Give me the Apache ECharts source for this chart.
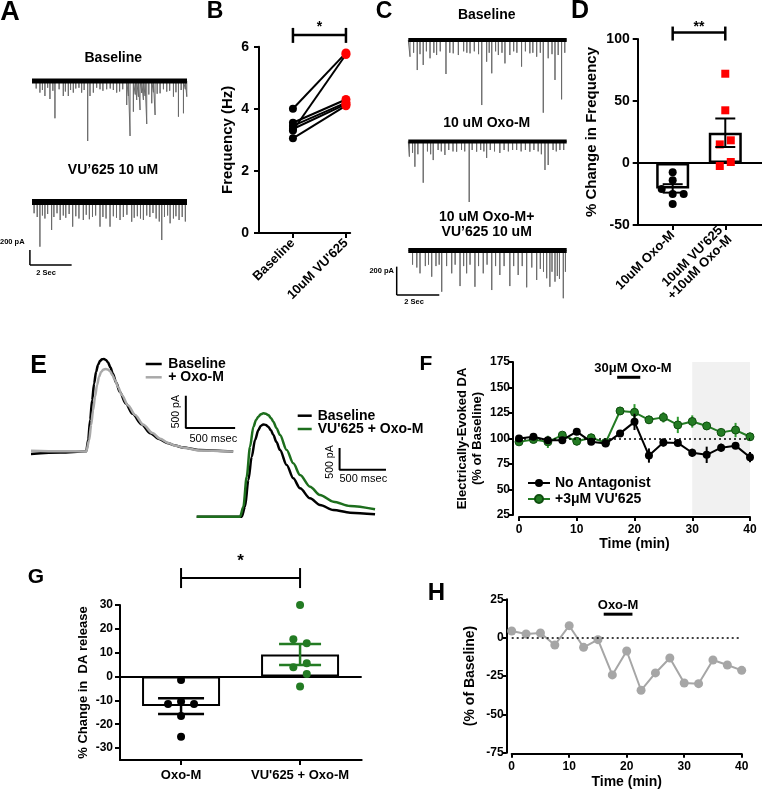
<!DOCTYPE html>
<html><head><meta charset="utf-8">
<script src="https://cdn.jsdelivr.net/npm/echarts@6/dist/echarts.min.js"></script>
<style>html,body{margin:0;padding:0;background:#fff}#c{width:762px;height:789px}</style>
</head><body><div id="c"></div><script>
const FONT = '"Liberation Sans", Arial, sans-serif';
const GREEN = '#237b23';

// ---------- Panel A (spike traces: time s, amplitude pA) ----------
const aDuration = 7.43;
const aBaseSpikeT = [0.2,0.38,0.5,0.62,0.75,0.86,1.0,1.10,1.3,1.50,1.6,1.74,1.85,1.98,2.1,2.25,2.38,2.5,2.67,2.78,2.94,3.1,3.26,3.4,3.58,3.75,3.9,4.06,4.2,4.35,4.54,4.62,4.70,4.86,4.95,5.02,5.1,5.18,5.26,5.34,5.42,5.50,5.6,5.74,5.82,5.90,6.0,6.14,6.3,6.46,6.6,6.78,6.9,7.02,7.15,7.26,7.35,7.42];
const aBaseSpikeD = [100,155,120,200,90,240,130,497,110,200,140,200,120,155,100,90,155,120,800,200,155,90,110,130,110,100,120,155,140,110,320,200,733,409,180,253,210,387,160,253,200,573,180,297,150,453,170,164,110,142,130,209,150,476,120,430,110,209];
const aVUSpikeT = [0.1,0.25,0.38,0.5,0.62,0.75,0.94,1.05,1.2,1.35,1.5,1.62,1.78,1.95,2.1,2.25,2.46,2.6,2.75,2.9,3.05,3.26,3.4,3.55,3.74,3.9,4.05,4.22,4.38,4.55,4.78,4.9,5.05,5.2,5.34,5.5,5.65,5.80,5.95,6.1,6.22,6.35,6.5,6.62,6.78,6.9,7.05,7.2,7.35];
const aVUSpikeD = [150,200,596,180,220,160,373,200,150,240,180,210,160,329,190,220,240,170,230,200,180,329,200,220,329,190,210,240,200,170,263,210,190,220,240,180,200,147,220,260,507,200,180,284,220,190,240,200,260];
// ---------- Panel B ----------
const bCategories = ['Baseline', "10uM VU'625"];
const bBaseline = [4.0, 3.55, 3.45, 3.35, 3.3, 3.05];
const bVU625 = [5.8, 4.3, 4.2, 4.15, 5.75, 4.1];
// ---------- Panel C ----------
const cDuration = 7.44;
const c1SpikeT = [0.08,0.25,0.42,0.55,0.70,0.85,1.02,1.2,1.33,1.5,1.77,1.95,2.11,2.35,2.6,2.75,2.90,3.1,3.3,3.45,3.68,3.8,3.92,4.1,4.23,4.4,4.54,4.77,4.95,5.1,5.32,5.5,5.71,5.85,6.03,6.2,6.34,6.57,6.75,6.89,7.04,7.20,7.35];
const c1SpikeD = [118,90,212,100,176,80,129,90,106,80,240,90,94,106,80,90,94,80,100,459,153,90,235,80,106,90,165,106,80,90,188,80,94,90,118,90,513,129,100,282,106,419,90];
const c2SpikeT = [0.05,0.2,0.31,0.45,0.70,0.9,1.05,1.17,1.4,1.55,1.72,1.9,2.1,2.27,2.5,2.65,2.86,3.0,3.21,3.4,3.55,3.68,3.85,4.05,4.30,4.5,4.7,4.9,5.09,5.3,5.5,5.71,5.9,6.1,6.25,6.42,6.57,6.8,6.95,7.12,7.3];
const c2SpikeD = [107,80,178,90,291,70,90,131,60,70,95,60,70,72,60,70,427,60,72,60,70,116,60,70,81,60,70,60,60,70,60,72,60,70,90,201,166,60,70,60,60];
const c3SpikeT = [0.2,0.4,0.55,0.8,0.95,1.10,1.3,1.45,1.57,1.8,2.04,2.2,2.43,2.6,2.74,2.9,3.13,3.3,3.52,3.7,3.92,4.1,4.30,4.5,4.77,4.95,5.16,5.35,5.56,5.8,6.03,6.2,6.35,6.50,6.65,6.75,6.89,7.0,7.1,7.28,7.38];
const c3SpikeD = [100,120,161,110,100,185,110,100,291,110,161,100,251,110,161,100,256,110,161,100,279,110,173,110,251,110,173,110,260,120,208,130,150,196,256,150,220,180,200,337,150];
// ---------- Panel D ----------
const dCategories = ['10uM Oxo-M', "10uM VU'625\n+10uM Oxo-M"];
const dMeans = [-20.5, 24.4];
const dSem = [3.4, 11.5];
const dOxo = [-7.5, -14, -21, -25, -25, -33];
const dVU = [72, 42.5, 18.3, 15, 0.8, -2.4];
const dOxoJitter = [0, 0, -11, 0, 11, 0];
const dVUJitter = [0, 0, 5.5, -5.5, 5.5, -5.5];
// ---------- Panel E (time ms, current pA) ----------
const eLeftBaseT = [0,300,560,580,600,620,640,660,680,700,720,740,760,780,805,830,865,900,960,1030,1120,1210,1300,1380,1460,1540,1710,2050];
const eLeftBase  = [-30,-10,10,190,500,800,1060,1240,1350,1410,1435,1440,1425,1390,1310,1210,1070,930,750,590,430,290,200,140,100,70,30,5];
const eLeftOxoT  = [0,300,560,590,610,630,650,670,690,710,735,760,780,800,825,850,885,920,985,1055,1140,1230,1310,1390,1470,1560,1710,2050];
const eLeftOxo   = [20,12,8,186,420,650,860,1037,1160,1238,1275,1285,1275,1254,1190,1115,1000,882,720,573,420,294,205,139,95,62,23,5];
const eRightBaseT = [0,485,521,557,593,629,665,690,718,745,772,800,826,860,898,970,1041,1114,1222,1329,1473,1653,1922];
const eRightBase  = [0,0,230,845,1382,1766,1997,2090,2127,2115,2074,1990,1882,1720,1536,1190,883,653,422,269,154,92,54];
const eRightVUT   = [0,467,503,539,575,611,640,665,690,718,745,772,800,826,860,898,970,1041,1114,1222,1329,1473,1653,1922];
const eRightVU    = [0,0,230,922,1613,2074,2230,2304,2360,2381,2372,2342,2275,2189,2040,1882,1536,1229,960,691,499,346,246,169];
// ---------- Panel F ----------
const fTime = [0,2.5,5,7.5,10,12.5,15,17.5,20,22.5,25,27.5,30,32.5,35,37.5,40];
const fNoAnt = [100,101.7,98.3,98.3,106.7,96.7,95,105,116.3,83.3,96,95.7,86,84,91,93,81.7];
const fNoAntSem = [2,2,3,3,3,3,3,3,8,7,4,3,4,8,4,3,5];
const fVU = [96.7,99,96.7,103.3,97.3,100.7,96,127,125.7,118.3,120.7,113.3,116.7,112.3,106,108.3,101.7];
const fVUSem = [3,3,6,3,4,4,3,4,8,4,5,8,6,4,3,7,4];
const fOxoWindow = [17, 21];
// ---------- Panel G ----------
const gCategories = ['Oxo-M', "VU'625 + Oxo-M"];
const gMeans = [-12.4, 9.2];
const gSem = [3.3, 4.4];
const gOxo = [-1.4, -11.5, -10.5, -11.5, -16.5, -25.3];
const gVU = [30, 15.6, 14, 3.9, 5.6, 1.1, -4.2];
const gOxoJitter = [0, -13, 0, 13, 0, 0];
const gVUJitter = [0, -6.7, 6.7, -6.7, 6.7, 6.7, 0];
// ---------- Panel H ----------
const hTime = [0,2.5,5,7.5,10,12.5,15,17.5,20,22.5,25,27.5,30,32.5,35,37.5,40];
const hValues = [4.3,2.4,3,-4.8,7.8,-6.3,-1.3,-24.3,-8.7,-34.3,-23,-13.3,-29.6,-30,-14.6,-17.8,-21.3];
const hOxoWindow = [16, 21];

// ---------- helpers ----------
function spikeLine(times, depths, end) {
  const idx = times.map((t, i) => i).sort((a, b) => times[a] - times[b]);
  const pts = [[0, 0]];
  idx.forEach(i => { pts.push([times[i], 0], [times[i], -depths[i]], [times[i], 0]); });
  pts.push([end, 0]);
  return pts;
}
function zip(xs, ys) { return xs.map((x, i) => [x, ys[i]]); }
function labelStyle(size, extra) {
  return Object.assign({color: '#000', fontWeight: 'bold', fontSize: size, fontFamily: FONT}, extra || {});
}
function valAxis(gi, o) {
  return Object.assign({
    gridIndex: gi, type: 'value',
    axisLine: {show: true, onZero: false, lineStyle: {color: '#000', width: 2}},
    axisTick: {show: true, length: 5, lineStyle: {color: '#000', width: 2}},
    splitLine: {show: false}
  }, o);
}
function hidden(gi, min, max) {
  return {gridIndex: gi, type: 'value', min: min, max: max, show: false,
    axisLine: {onZero: false}, splitLine: {show: false}};
}
function errBars(gi, pts, color, capPx, lw, z) {
  return {type: 'custom', xAxisIndex: gi, yAxisIndex: gi, z: z || 5, silent: true, data: pts,
    renderItem: function (params, api) {
      const x = api.value(0), m = api.value(1), s = api.value(2);
      const a = api.coord([x, m + s]), b = api.coord([x, m - s]);
      const st = {stroke: color, lineWidth: lw};
      const ch = [{type: 'line', shape: {x1: a[0], y1: a[1], x2: b[0], y2: b[1]}, style: st}];
      if (capPx) {
        ch.push({type: 'line', shape: {x1: a[0] - capPx / 2, y1: a[1], x2: a[0] + capPx / 2, y2: a[1]}, style: st});
        ch.push({type: 'line', shape: {x1: b[0] - capPx / 2, y1: b[1], x2: b[0] + capPx / 2, y2: b[1]}, style: st});
      }
      return {type: 'group', children: ch};
    }};
}
function traceSeries(gi, times, depths, end, band) {
  return [
    {type: 'line', xAxisIndex: gi, yAxisIndex: gi, data: [[0, 0], [end, 0]], symbol: 'none',
     lineStyle: {color: '#000', width: band}, z: 3, silent: true},
    {type: 'line', xAxisIndex: gi, yAxisIndex: gi, data: spikeLine(times, depths, end), symbol: 'none',
     lineStyle: {color: '#6a6a6a', width: 1}, z: 2, silent: true}
  ];
}
const zeroLine = {silent: true, symbol: ['none', 'none'], label: {show: false},
  lineStyle: {color: '#000', type: 'solid', width: 2}, data: [{yAxis: 0}], animation: false};
const solid = {opacity: 1};

const grids = [
  {left: 32, top: 76.5, width: 155, height: 68.25},
  {left: 32, top: 197.5, width: 155, height: 68.25},
  {left: 259, top: 46.7, width: 91.2, height: 186.3},
  {left: 408.3, top: 35.75, width: 158.4, height: 83.6},
  {left: 408.3, top: 137.25, width: 158.4, height: 83.6},
  {left: 408.3, top: 246.25, width: 158.4, height: 83.6},
  {left: 637.7, top: 39, width: 124.3, height: 186},
  {left: 31, top: 348.6, width: 207.1, height: 109.8},
  {left: 196.7, top: 408.2, width: 190.2, height: 112.8},
  {left: 519, top: 362, width: 231, height: 153},
  {left: 120, top: 605, width: 241.7, height: 155},
  {left: 511.7, top: 599.3, width: 230, height: 153.4}
].map(g => Object.assign({outerBoundsMode: 'none', containLabel: false, show: false}, g));

const xAxes = [
  hidden(0, 0, aDuration), hidden(1, 0, aDuration),
  valAxis(2, {min: -0.64, max: 1.08,
    axisTick: {show: true, length: 5, customValues: [0, 1], lineStyle: {color: '#000', width: 2}},
    axisLabel: labelStyle(13, {customValues: [0, 1], rotate: 45, margin: 8, formatter: v => bCategories[Math.round(v)]})}),
  hidden(3, 0, cDuration), hidden(4, 0, cDuration), hidden(5, 0, cDuration),
  valAxis(6, {min: -0.665, max: 1.698,
    axisTick: {show: true, length: 5, customValues: [0, 1], lineStyle: {color: '#000', width: 2}},
    axisLabel: labelStyle(13, {customValues: [0, 1], rotate: 45, margin: 8, formatter: v => dCategories[Math.round(v)]})}),
  hidden(7, 0, 2100), hidden(8, 0, 2050),
  valAxis(9, {min: 0, max: 40, interval: 10, offset: 2,
    axisTick: {show: true, length: 4, lineStyle: {color: '#000', width: 2}},
    axisLabel: labelStyle(12, {margin: 7}),
    name: 'Time (min)', nameLocation: 'middle', nameGap: 20, nameTextStyle: labelStyle(14)}),
  valAxis(10, {min: -0.513, max: 1.518,
    axisTick: {show: true, length: 5, customValues: [0, 1], lineStyle: {color: '#000', width: 2}},
    axisLabel: labelStyle(13, {customValues: [0, 1], margin: 9, formatter: v => gCategories[Math.round(v)]})}),
  valAxis(11, {min: 0, max: 40, interval: 10, offset: 1,
    axisTick: {show: true, length: 4, lineStyle: {color: '#000', width: 2}},
    axisLabel: labelStyle(12, {margin: 7}),
    name: 'Time (min)', nameLocation: 'middle', nameGap: 21, nameTextStyle: labelStyle(14)})
];
const yAxes = [
  hidden(0, -850, 60), hidden(1, -850, 60),
  valAxis(2, {min: 0, max: 6, interval: 2, axisLabel: labelStyle(14, {margin: 10}),
    name: 'Frequency (Hz)', nameLocation: 'middle', nameGap: 24, nameTextStyle: labelStyle(15)}),
  hidden(3, -560, 30), hidden(4, -560, 30), hidden(5, -560, 30),
  valAxis(6, {min: -50, max: 100, interval: 50, axisLabel: labelStyle(14, {margin: 8}),
    name: '% Change in Frequency', nameLocation: 'middle', nameGap: 38, nameTextStyle: labelStyle(15)}),
  hidden(7, -100, 1600), hidden(8, -100, 2500),
  valAxis(9, {min: 25, max: 175, interval: 25, offset: 6,
    axisTick: {show: true, length: 4, lineStyle: {color: '#000', width: 2}},
    axisLabel: labelStyle(12, {margin: 3}),
    name: 'Electrically-Evoked DA\n(% of Baseline)', nameLocation: 'middle', nameGap: 28,
    nameTextStyle: labelStyle(13, {lineHeight: 15})}),
  valAxis(10, {min: -35, max: 30,
    axisTick: {show: true, length: 5, customValues: [-30, -20, -10, 0, 10, 20, 30], lineStyle: {color: '#000', width: 2}},
    axisLabel: labelStyle(12, {customValues: [-30, -20, -10, 0, 10, 20, 30], margin: 7}),
    name: '% Change in  DA release', nameLocation: 'middle', nameGap: 30, nameTextStyle: labelStyle(13)}),
  valAxis(11, {min: -75, max: 25, interval: 25, offset: 5,
    axisTick: {show: true, length: 4, lineStyle: {color: '#000', width: 2}},
    axisLabel: labelStyle(12, {margin: 3}),
    name: '(% of Baseline)', nameLocation: 'middle', nameGap: 30, nameTextStyle: labelStyle(14)})
];

const series = [];
// A
series.push(...traceSeries(0, aBaseSpikeT, aBaseSpikeD, aDuration, 5));
series.push(...traceSeries(1, aVUSpikeT, aVUSpikeD, aDuration, 6));
// B
bBaseline.forEach((v, i) => series.push({type: 'line', xAxisIndex: 2, yAxisIndex: 2,
  data: [[0, v], [1, bVU625[i]]], symbol: 'none', lineStyle: {color: '#000', width: 2}, z: 3, silent: true}));
series.push({type: 'scatter', xAxisIndex: 2, yAxisIndex: 2, data: bBaseline.map(v => [0, v]),
  symbol: 'circle', symbolSize: 8, itemStyle: {color: '#000', opacity: 1}, z: 5, silent: true});
series.push({type: 'scatter', xAxisIndex: 2, yAxisIndex: 2, data: bVU625.map(v => [1, v]),
  symbol: 'circle', symbolSize: 9, itemStyle: {color: '#f00', opacity: 1}, z: 5, silent: true});
// C
series.push(...traceSeries(3, c1SpikeT, c1SpikeD, cDuration, 4));
series.push(...traceSeries(4, c2SpikeT, c2SpikeD, cDuration, 4));
series.push(...traceSeries(5, c3SpikeT, c3SpikeD, cDuration, 5));
// D
series.push({type: 'bar', xAxisIndex: 6, yAxisIndex: 6, data: dMeans.map((m, i) => [i, m]), barWidth: 33,
  itemStyle: {color: '#fff', borderColor: '#000', borderWidth: 2.5}, z: 2, silent: true, markLine: zeroLine});
series.push(errBars(6, dMeans.map((m, i) => [i, m, dSem[i]]), '#000', 20, 2, 6));
series.push({type: 'scatter', xAxisIndex: 6, yAxisIndex: 6,
  data: dOxo.map((v, i) => ({value: [0, v], symbolOffset: [dOxoJitter[i], 0]})),
  symbol: 'circle', symbolSize: 8, itemStyle: {color: '#000', opacity: 1}, z: 5, silent: true});
series.push({type: 'scatter', xAxisIndex: 6, yAxisIndex: 6,
  data: dVU.map((v, i) => ({value: [1, v], symbolOffset: [dVUJitter[i], 0]})),
  symbol: 'rect', symbolSize: 8, itemStyle: {color: '#f00', opacity: 1}, z: 5, silent: true});
// E
const eScaleLeft = [[1570, 870], [1570, 370], [2070, 370]];
const eScaleRight = [[1540, 1580], [1540, 1080], [2040, 1080]];
series.push({type: 'line', xAxisIndex: 7, yAxisIndex: 7, data: zip(eLeftBaseT, eLeftBase), smooth: 0.3, smoothMonotone: 'x',
  symbol: 'none', lineStyle: {color: '#000', width: 2.5}, z: 3, silent: true});
series.push({type: 'line', xAxisIndex: 7, yAxisIndex: 7, data: zip(eLeftOxoT, eLeftOxo), smooth: 0.3, smoothMonotone: 'x',
  symbol: 'none', lineStyle: {color: '#a9a9a9', width: 2.5}, z: 4, silent: true});
series.push({type: 'line', xAxisIndex: 7, yAxisIndex: 7, data: eScaleLeft, symbol: 'none',
  lineStyle: {color: '#000', width: 2}, z: 3, silent: true});
series.push({type: 'line', xAxisIndex: 8, yAxisIndex: 8, data: zip(eRightBaseT, eRightBase), smooth: 0.3, smoothMonotone: 'x',
  symbol: 'none', lineStyle: {color: '#000', width: 2.5}, z: 3, silent: true});
series.push({type: 'line', xAxisIndex: 8, yAxisIndex: 8, data: zip(eRightVUT, eRightVU), smooth: 0.3, smoothMonotone: 'x',
  symbol: 'none', lineStyle: {color: '#1d6e1d', width: 2.5}, z: 4, silent: true});
series.push({type: 'line', xAxisIndex: 8, yAxisIndex: 8, data: eScaleRight, symbol: 'none',
  lineStyle: {color: '#000', width: 2}, z: 3, silent: true});
// F
series.push({type: 'line', xAxisIndex: 9, yAxisIndex: 9, data: [], z: 1, silent: true,
  markArea: {silent: true, itemStyle: {color: '#f1f1f1'}, data: [[{xAxis: 30}, {xAxis: 40}]]},
  markLine: {silent: true, symbol: ['none', 'none'], label: {show: false},
    lineStyle: {color: '#000', type: [2, 3], width: 1.5}, data: [{yAxis: 100}]}});
series.push(errBars(9, fTime.map((t, i) => [t, fVU[i], fVUSem[i]]), '#2f9a2f', 0, 2, 3));
series.push({name: "+3μM VU'625", type: 'line', xAxisIndex: 9, yAxisIndex: 9, data: zip(fTime, fVU),
  symbol: 'circle', symbolSize: 8, lineStyle: {color: GREEN, width: 2},
  itemStyle: {color: GREEN, borderColor: '#0e4e0e', borderWidth: 1, opacity: 1}, z: 4, silent: true});
series.push(errBars(9, fTime.map((t, i) => [t, fNoAnt[i], fNoAntSem[i]]), '#000', 0, 2, 5));
series.push({name: 'No Antagonist', type: 'line', xAxisIndex: 9, yAxisIndex: 9, data: zip(fTime, fNoAnt),
  symbol: 'circle', symbolSize: 8, lineStyle: {color: '#000', width: 2},
  itemStyle: {color: '#000', opacity: 1}, z: 6, silent: true});
// G
series.push({type: 'bar', xAxisIndex: 10, yAxisIndex: 10, data: gMeans.map((m, i) => [i, m]), barWidth: 78,
  itemStyle: {color: '#fff', borderColor: '#000', borderWidth: 2}, z: 2, silent: true, markLine: zeroLine});
series.push(errBars(10, [[0, gMeans[0], gSem[0]]], '#000', 46, 2.5, 6));
series.push(errBars(10, [[1, gMeans[1], gSem[1]]], GREEN, 42, 2.5, 6));
series.push({type: 'scatter', xAxisIndex: 10, yAxisIndex: 10,
  data: gOxo.map((v, i) => ({value: [0, v], symbolOffset: [gOxoJitter[i], 0]})),
  symbol: 'circle', symbolSize: 8, itemStyle: {color: '#000', opacity: 1}, z: 5, silent: true});
series.push({type: 'scatter', xAxisIndex: 10, yAxisIndex: 10,
  data: gVU.map((v, i) => ({value: [1, v], symbolOffset: [gVUJitter[i], 0]})),
  symbol: 'circle', symbolSize: 8, itemStyle: {color: GREEN, opacity: 1}, z: 5, silent: true});
// H
series.push({type: 'line', xAxisIndex: 11, yAxisIndex: 11, data: [], z: 1, silent: true,
  markLine: {silent: true, symbol: ['none', 'none'], label: {show: false},
    lineStyle: {color: '#000', type: [2, 3], width: 1.5}, data: [{yAxis: 0}]}});
series.push({type: 'line', xAxisIndex: 11, yAxisIndex: 11, data: zip(hTime, hValues),
  symbol: 'circle', symbolSize: 9, lineStyle: {color: '#a6a6a6', width: 2},
  itemStyle: {color: '#a6a6a6', opacity: 1}, z: 4, silent: true});

const chart = echarts.init(document.getElementById('c'), null, {renderer: 'canvas'});
chart.setOption({
  animation: false,
  backgroundColor: '#fff',
  textStyle: {fontFamily: FONT},
  grid: grids, xAxis: xAxes, yAxis: yAxes, series: series,
  legend: {show: true, selectedMode: false, orient: 'vertical', left: 527, top: 476, padding: 0,
    itemWidth: 22, itemHeight: 10, itemGap: 2,
    data: ['No Antagonist', "+3μM VU'625"],
    textStyle: {color: '#000', fontWeight: 'bold', fontSize: 14, fontFamily: FONT}}
});

// ---------- annotations ----------
const px = (g, x, y) => chart.convertToPixel({gridIndex: g}, [x, y]);
function T(text, x, y, size, o) {
  o = o || {};
  return {type: 'text', x: x, y: y, rotation: o.rot || 0, silent: true, z: 50,
    style: {text: text, font: (o.weight || 'bold') + ' ' + size + 'px ' + FONT, fill: o.color || '#000',
      textAlign: o.align || 'center', textVerticalAlign: 'middle'}};
}
function L(x1, y1, x2, y2, color, w) {
  return {type: 'line', silent: true, z: 50, shape: {x1: x1, y1: y1, x2: x2, y2: y2},
    style: {stroke: color || '#000', lineWidth: w || 2}};
}
function bracket(g, x0, x1, yv, up, down, lw) {
  const a = px(g, x0, yv), b = px(g, x1, yv);
  return [L(a[0], a[1], b[0], b[1], '#000', lw), L(a[0], a[1] - up, a[0], a[1] + down, '#000', lw),
          L(b[0], b[1] - up, b[0], b[1] + down, '#000', lw)];
}
const gr = [];
gr.push(T('A', 10, 13, 27), T('B', 215, 12, 23), T('C', 384, 12, 23), T('D', 580, 11, 25),
        T('E', 38.5, 366, 25), T('F', 426, 364.5, 21), T('G', 36, 577.5, 21), T('H', 436.5, 593.5, 24));
gr.push(T('Baseline', 113.3, 58.3, 14), T('VU’625 10 uM', 113, 170, 14));
{
  const p0 = px(1, -0.1, -840), p1 = px(1, -0.1, -640), p2 = px(1, 1.9, -840);
  gr.push(L(p0[0], p0[1], p1[0], p1[1], '#000', 1.5), L(p0[0], p0[1], p2[0], p2[1], '#000', 1.5));
  gr.push(T('200 pA', 0, 241.7, 7.5, {align: 'left'}), T('2 Sec', 46, 272.7, 7.5));
}
gr.push(...bracket(2, 0, 1, 6.38, 7, 8, 2.5));
gr.push(T('*', px(2, 0.5, 0)[0], 27, 14));
gr.push(T('Baseline', 486.7, 15, 14), T('10 uM Oxo-M', 486.7, 123.3, 14),
        T('10 uM Oxo-M+', 486.7, 216.7, 14), T('VU’625 10 uM', 486.7, 231.7, 14));
{
  const p0 = px(5, -0.545, -314), p1 = px(5, -0.545, -114), p2 = px(5, 1.455, -314);
  gr.push(L(p0[0], p0[1], p1[0], p1[1], '#000', 1.5), L(p0[0], p0[1], p2[0], p2[1], '#000', 1.5));
  gr.push(T('200 pA', 394, 271, 7.5, {align: 'right'}), T('2 Sec', 414, 302, 7.5));
}
gr.push(...bracket(6, 0, 1, 105.2, 6, 8, 2.5));
gr.push(T('**', px(6, 0.5, 0)[0], 27, 14));
gr.push(L(145.7, 364, 161.7, 364, '#000', 2.5), T('Baseline', 168.3, 364, 14, {align: 'left'}),
        L(145.7, 377.3, 161.7, 377.3, '#a9a9a9', 2.5), T('+ Oxo-M', 168.3, 377.3, 14, {align: 'left'}),
        L(297.7, 415.7, 311.7, 415.7, '#000', 2.5), T('Baseline', 317.7, 415.7, 14, {align: 'left'}),
        L(297.7, 429, 311.7, 429, '#1d6e1d', 2.5), T("VU'625 + Oxo-M", 317.7, 429, 14, {align: 'left'}));
gr.push(T('500 pA', 175.8, 411.7, 10.5, {weight: 'normal', rot: Math.PI / 2}),
        T('500 msec', 213.3, 439.3, 11, {weight: 'normal'}),
        T('500 pA', 330, 462, 10.5, {weight: 'normal', rot: Math.PI / 2}),
        T('500 msec', 363.3, 479, 11, {weight: 'normal'}));
{
  const a = px(9, fOxoWindow[0], 160), b = px(9, fOxoWindow[1], 160);
  gr.push(L(a[0], a[1], b[0], b[1], '#000', 3), T('30μM Oxo-M', 633, 368, 13));
}
gr.push(...bracket(10, 0, 1, 41.3, 10, 10, 2));
gr.push(T('*', px(10, 0.5, 0)[0], 561, 17));
{
  const a = px(11, hOxoWindow[0], 15.3), b = px(11, hOxoWindow[1], 15.3);
  gr.push(L(a[0], a[1], b[0], b[1], '#000', 3), T('Oxo-M', 618, 605, 13));
}
chart.setOption({graphic: {elements: gr}});
</script></body></html>
